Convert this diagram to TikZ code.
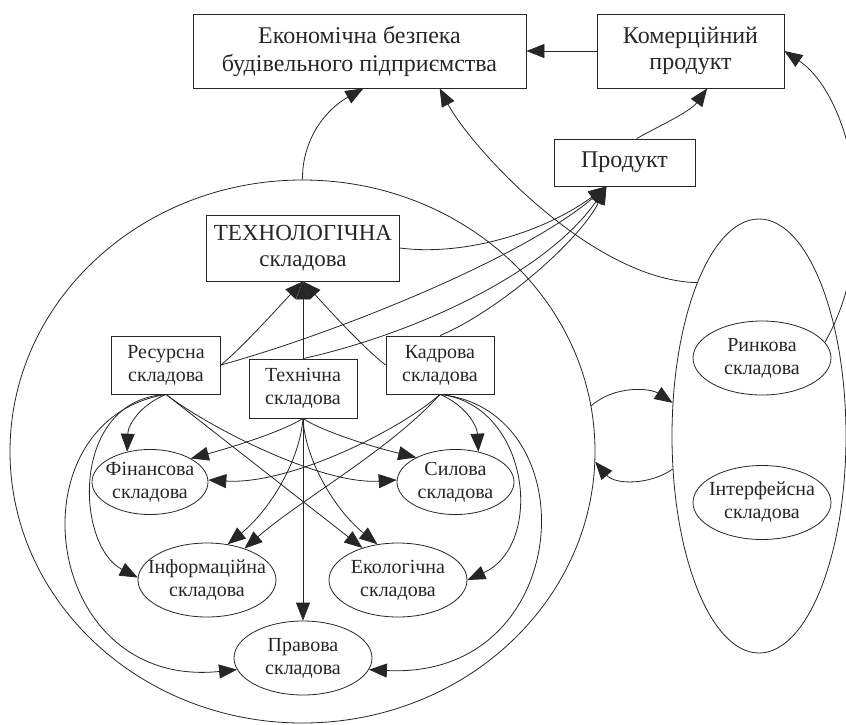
\documentclass[tikz,border=0pt]{standalone}
\usepackage{fontspec}
\setmainfont{Liberation Serif}
\usetikzlibrary{shapes.geometric}
\usetikzlibrary{arrows.meta}
\newcommand{\elltext}[2]{\makebox[0pt]{\begin{tabular}{@{}c@{}}#1\\#2\end{tabular}}}

\begin{document}
\begin{tikzpicture}[x=1pt, y=-1pt, line width=0.8pt, color=black!85,
      box/.style={draw, rectangle, inner sep=0pt, align=center, font=\fontsize{20}{23}\selectfont},
      ell/.style={draw, ellipse, inner sep=0pt, minimum width=138pt, minimum height=74pt, font=\fontsize{20}{23}\selectfont},
      arr/.style={-{Triangle[length=18pt,width=14pt]}}]
      \useasboundingbox (0,0) rectangle (846,724);

      \node[box, minimum width=333pt, minimum height=74pt, font=\fontsize{24}{28}\selectfont] (econ) at (359.5,51) {Економічна безпека\\будівельного підприємства};
      \node[box, minimum width=187pt, minimum height=74pt, font=\fontsize{24}{26}\selectfont] (komer) at (690.5,51) {Комерційний\\продукт};
      \node[box, minimum width=141pt, minimum height=47pt, font=\fontsize{24}{26}\selectfont] (prod) at (624.5,162.5) {Продукт};
      \node[box, minimum width=193pt, minimum height=66pt, font=\fontsize{23}{26}\selectfont] (tech) at (303,248) {ТЕХНОЛОГІЧНА\\складова};
      \node[box, minimum width=109pt, minimum height=58pt] (res) at (166,365) {Ресурсна\\складова};
      \node[box, minimum width=108pt, minimum height=59pt] (tekhn) at (303,388.5) {Технічна\\складова};
      \node[box, minimum width=108pt, minimum height=58pt] (kadr) at (440,365) {Кадрова\\складова};

      \node[ell, minimum width=116pt, minimum height=62pt] (fin) at (150,482) {\elltext{Фінансова}{складова}};
      \node[ell, minimum width=117pt, minimum height=63pt] (syl) at (455.5,482) {\elltext{Силова}{складова}};
      \node[ell] (inf) at (207,580) {\elltext{Інформаційна}{складова}};
      \node[ell] (eko) at (398,580) {\elltext{Екологічна}{складова}};
      \node[ell] (prav) at (303,658) {\elltext{Правова}{складова}};
      \node[ell] (rynk) at (762,358) {\elltext{Ринкова}{складова}};
      \node[ell] (intf) at (762,502.5) {\elltext{Інтерфейсна}{складова}};

      \node[draw, ellipse, minimum width=585pt, minimum height=543pt] (big) at (302.5,451.5) {};
      \node[draw, ellipse, minimum width=174pt, minimum height=434pt] (rell) at (759,436) {};

      \draw[arr] (komer.west) -- (econ.east);
      \draw[arr] (prod.63) .. controls (655,128) and (690,112) .. (komer.-66);
      \draw[arr] (big.north) .. controls (302,140) and (325,110) .. (econ.-84);
      \draw[arr] (rell.112) .. controls (591,280) and (470,146) .. (econ.-25);
      \draw[arr] (rynk.14) .. controls (885,235) and (850,95) .. (komer.east);

      \draw[arr] (res.east) .. controls (245,345) and (285,300) .. (tech.south);
      \draw[arr] (tekhn.north) -- (tech.south);
      \draw[arr] (kadr.west) .. controls (360,345) and (320,300) .. (tech.south);

      \draw[arr] (tech.east) .. controls (460,256) and (540,235) .. (prod.-127);
      \draw[arr] (res.east) .. controls (330,335) and (520,260) .. (prod.-127);
      \draw[arr] (tekhn.north) .. controls (410,335) and (545,275) .. (prod.-127);
      \draw[arr] (kadr.north) .. controls (500,310) and (580,240) .. (prod.-127);

      \draw[arr] (big.9) .. controls (615,385) and (650,388) .. (rell.159);
      \draw[arr] (rell.201) .. controls (650,485) and (615,485) .. (big.-2);

      \draw[arr] (res.south) .. controls (140,405) and (128,425) .. (fin.127);
      \draw[arr] (res.south) .. controls (70,400) and (75,545) .. (inf.178);
      \draw[arr] (res.south) .. controls (10,420) and (40,690) .. (prav.190);
      \draw[arr] (res.south) -- (eko.138);
      \draw[arr] (res.south) .. controls (205,425) and (320,485) .. (syl.178);

      \draw[arr] (tekhn.south) .. controls (285,430) and (240,445) .. (fin.30);
      \draw[arr] (tekhn.south) .. controls (320,430) and (365,445) .. (syl.148);
      \draw[arr] (tekhn.south) .. controls (300,460) and (270,510) .. (inf.60);
      \draw[arr] (tekhn.south) .. controls (305,460) and (335,510) .. (eko.120);
      \draw[arr] (tekhn.south) -- (prav.north);

      \draw[arr] (kadr.south) .. controls (465,405) and (477,425) .. (syl.53);
      \draw[arr] (kadr.south) .. controls (400,430) and (290,485) .. (fin.2);
      \draw[arr] (kadr.south) .. controls (390,450) and (300,500) .. (inf.40);
      \draw[arr] (kadr.south) .. controls (530,405) and (545,545) .. (eko.0);
      \draw[arr] (kadr.south) .. controls (590,410) and (575,680) .. (prav.-10);
    \end{tikzpicture}
\end{document}
